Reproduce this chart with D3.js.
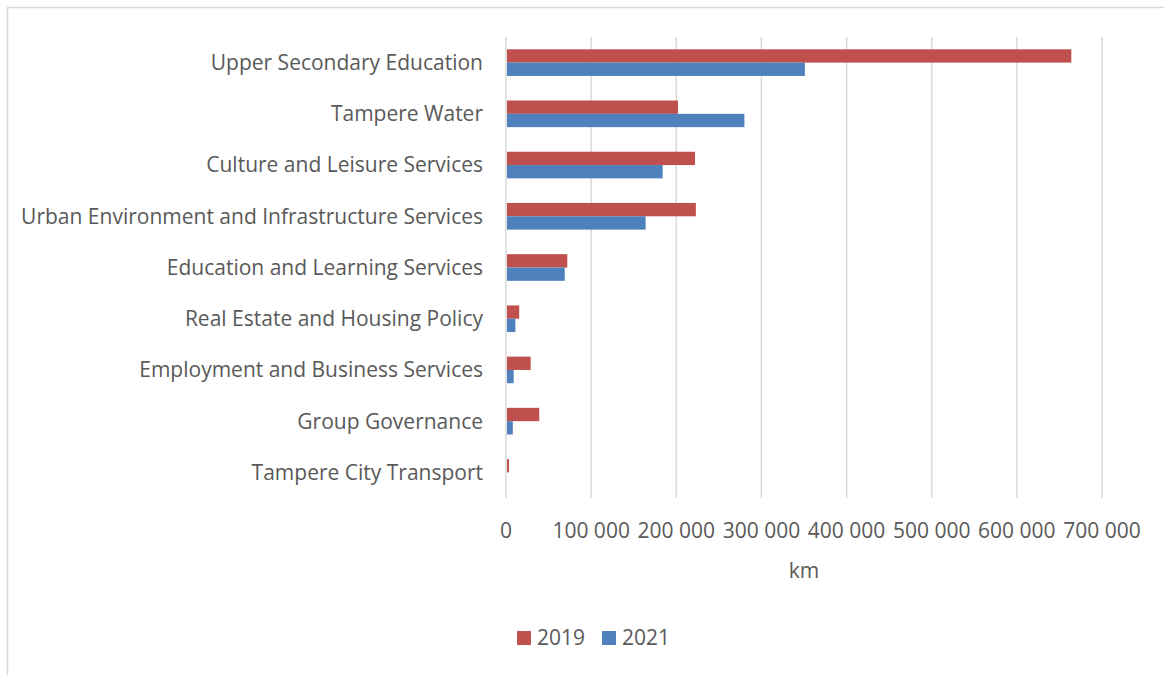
<!DOCTYPE html>
<html><head><meta charset="utf-8">
<script src="https://cdn.jsdelivr.net/npm/d3@7"></script>
<style>body{margin:0;background:#fff}svg{display:block}</style>
</head><body><div id="chart"></div>
<script>
const categories = ["Upper Secondary Education","Tampere Water","Culture and Leisure Services","Urban Environment and Infrastructure Services","Education and Learning Services","Real Estate and Housing Policy","Employment and Business Services","Group Governance","Tampere City Transport"];
const values2019 = [664000, 202000, 222000, 223000, 72000, 15500, 29000, 39000, 3500];
const values2021 = [351000, 280000, 184000, 164000, 69000, 11000, 9000, 8000, 0];
const seriesNames = ["2019","2021"];
const seriesColors = ["#C0504D","#4F81BD"];
const xTicks = [0,100000,200000,300000,400000,500000,600000,700000];
const xTitle = "km";

const W = 1164, H = 675;
const svg = d3.select("#chart").append("svg").attr("width", W).attr("height", H);
const font = "'Open Sans', sans-serif";
const textColor = "#595959";

svg.append("rect").attr("x",7.5).attr("y",7.5).attr("width",1170).attr("height",700)
  .attr("fill","#fff").attr("stroke","#d9d9d9").attr("stroke-width",1.5);

const x = d3.scaleLinear().domain([0,700000]).range([506,1102]);
const y = d3.scaleBand().domain(categories).range([37,498]).paddingInner(0.48).paddingOuter(0.24);
const ySub = d3.scaleBand().domain(seriesNames).range([0,y.bandwidth()]);

// gridlines
svg.append("g").selectAll("line").data(xTicks).join("line")
  .attr("x1",d=>x(d)).attr("x2",d=>x(d)).attr("y1",37).attr("y2",498)
  .attr("stroke","#d9d9d9").attr("stroke-width",1.5);

// bars
const data = categories.map((c,i)=>({c, vals:[values2019[i], values2021[i]]}));
const groups = svg.append("g").selectAll("g").data(data).join("g")
  .attr("transform",d=>`translate(0,${y(d.c)})`);
groups.selectAll("rect").data(d=>d.vals.map((v,j)=>({v, s:seriesNames[j], col:seriesColors[j]})))
  .join("rect")
  .attr("x",x(0)+1).attr("y",d=>ySub(d.s))
  .attr("width",d=>Math.max(0,x(d.v)-x(0)-1)).attr("height",ySub.bandwidth())
  .attr("fill",d=>d.col);

// category labels
svg.append("g").selectAll("text").data(categories).join("text")
  .attr("x",483).attr("y",d=>y(d)+y.bandwidth()/2).attr("dy","0.35em")
  .attr("text-anchor","end").attr("font-family",font).attr("font-size",21)
  .attr("fill",textColor).text(d=>d);

// x tick labels
const fmt = d => d3.format(",")(d).replace(/,/g," ");
svg.append("g").selectAll("text").data(xTicks).join("text")
  .attr("x",d=>x(d)).attr("y",531).attr("dy","0.35em").attr("text-anchor","middle")
  .attr("font-family",font).attr("font-size",21).attr("fill",textColor).text(fmt);

svg.append("text").attr("x",804).attr("y",571).attr("dy","0.35em").attr("text-anchor","middle")
  .attr("font-family",font).attr("font-size",21).attr("fill",textColor).text(xTitle);

// legend
const legend = svg.append("g");
const legX = [517, 602];
seriesNames.forEach((s,i)=>{
  legend.append("rect").attr("x",legX[i]).attr("y",631).attr("width",14).attr("height",14).attr("fill",seriesColors[i]);
  legend.append("text").attr("x",legX[i]+20).attr("y",638).attr("dy","0.35em")
    .attr("font-family",font).attr("font-size",21).attr("fill",textColor).text(s);
});
</script></body></html>
